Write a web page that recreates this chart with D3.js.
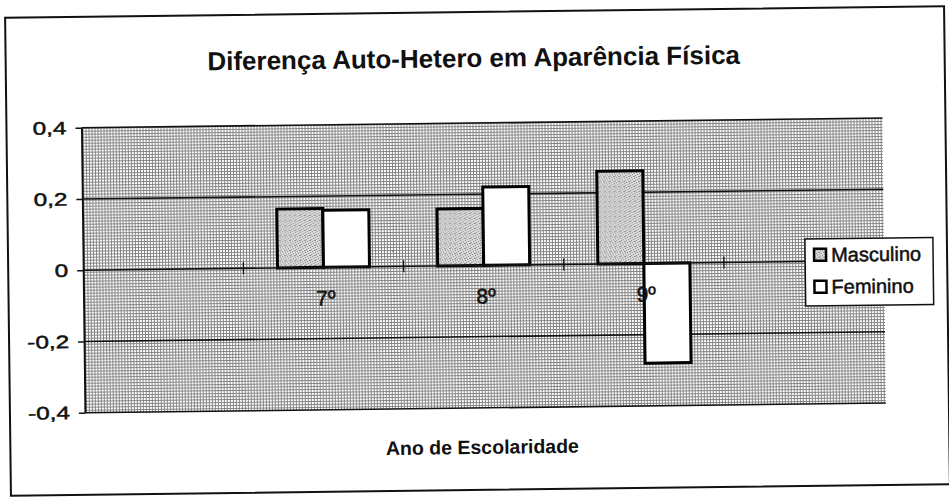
<!DOCTYPE html>
<html>
<head>
<meta charset="utf-8">
<script src="https://cdn.jsdelivr.net/npm/d3@7"></script>
<style>
  html, body { margin: 0; padding: 0; background: #fff; }
  svg { display: block; font-family: "Liberation Sans", Arial, sans-serif; }
  .ink { stroke: #111; stroke-width: 0.5px; }
</style>
</head>
<body>
<div id="chart"></div>
<script>
// --- data ---
const categories = ["", "7º", "8º", "9º", ""];
const seriesNames = ["Masculino", "Feminino"];
const masculino = [null, 0.165, 0.16, 0.26, null];
const feminino = [null, 0.16, 0.22, -0.28, null];
const yTicks = [-0.4, -0.2, 0, 0.2, 0.4];

const W = 949, H = 502;
const plot = {left: 83, right: 884, top: 123, bottom: 408};

const svg = d3.select("#chart").append("svg")
    .attr("width", W)
    .attr("height", H);

// fill patterns (printed Excel look)
const defs = svg.append("defs");
const bgPat = defs.append("pattern")
    .attr("id", "bgPat").attr("patternUnits", "userSpaceOnUse")
    .attr("width", 3).attr("height", 3);
bgPat.append("rect").attr("width", 3).attr("height", 3).attr("fill", "#fff");
bgPat.append("rect").attr("width", 3).attr("height", 1).attr("fill", "#858585");
bgPat.append("rect").attr("width", 1).attr("height", 3).attr("fill", "#858585");

const mPat = defs.append("pattern")
    .attr("id", "mascPat").attr("patternUnits", "userSpaceOnUse")
    .attr("width", 5).attr("height", 5);
mPat.append("rect").attr("width", 5).attr("height", 5).attr("fill", "#dadada");
[[0, 0], [3, 1], [1, 2], [4, 3], [2, 4], [0, 3]].forEach(p => {
    mPat.append("rect").attr("x", p[0]).attr("y", p[1])
        .attr("width", 1).attr("height", 1).attr("fill", "#8a8a8a");
});

const fills = {Masculino: "url(#mascPat)", Feminino: "#fff"};

// the scan is slightly tilted
const g = svg.append("g").attr("transform", "rotate(-0.7 474 251)");

// outer chart frame
g.append("rect")
    .attr("x", 8).attr("y", 12).attr("width", 939).attr("height", 478)
    .attr("fill", "#fff").attr("stroke", "#111").attr("stroke-width", 2);

const x = d3.scaleBand()
    .domain(d3.range(categories.length))
    .range([plot.left, plot.right]);

const x1 = d3.scaleBand()
    .domain(seriesNames)
    .range([0, 92]);

const y = d3.scaleLinear()
    .domain([-0.4, 0.4])
    .range([plot.bottom, plot.top]);

// plot background
g.append("rect")
    .attr("x", plot.left).attr("y", plot.top)
    .attr("width", plot.right - plot.left).attr("height", plot.bottom - plot.top)
    .attr("fill", "url(#bgPat)");

// gridlines
g.append("g")
    .selectAll("line")
    .data(yTicks.filter(d => d !== 0))
    .join("line")
    .attr("x1", plot.left).attr("x2", plot.right)
    .attr("y1", d => y(d)).attr("y2", d => y(d))
    .attr("stroke", "#111").attr("stroke-width", 1.6);

// bars
const rows = [];
categories.forEach((c, i) => {
    if (masculino[i] !== null) rows.push({i, s: "Masculino", v: masculino[i]});
    if (feminino[i] !== null) rows.push({i, s: "Feminino", v: feminino[i]});
});

g.append("g")
    .selectAll("rect")
    .data(rows)
    .join("rect")
    .attr("x", d => x(d.i) + x.bandwidth() / 2 - 46 + x1(d.s))
    .attr("y", d => y(Math.max(0, d.v)))
    .attr("width", x1.bandwidth())
    .attr("height", d => Math.abs(y(d.v) - y(0)))
    .attr("fill", d => fills[d.s])
    .attr("stroke", "#000")
    .attr("stroke-width", 3);

// category axis at zero
const xAxis = g.append("g");
xAxis.append("line")
    .attr("x1", plot.left).attr("x2", plot.right)
    .attr("y1", y(0)).attr("y2", y(0))
    .attr("stroke", "#111").attr("stroke-width", 1.6);
xAxis.selectAll(".cross")
    .data(d3.range(1, categories.length))
    .join("line")
    .attr("class", "cross")
    .attr("x1", d => x(d)).attr("x2", d => x(d))
    .attr("y1", y(0) - 6).attr("y2", y(0) + 6)
    .attr("stroke", "#111").attr("stroke-width", 1.3);
xAxis.selectAll("text")
    .data(categories.map((c, i) => ({c, i})).filter(d => d.c))
    .join("text")
    .attr("class", "ink")
    .attr("x", d => x(d.i) + x.bandwidth() / 2 + 2)
    .attr("y", y(0) + 38)
    .attr("text-anchor", "middle")
    .attr("font-size", 21)
    .attr("fill", "#111")
    .text(d => d.c);

// value axis
const yAxis = g.append("g")
    .attr("transform", `translate(${plot.left},0)`)
    .call(d3.axisLeft(y)
        .tickValues(yTicks)
        .tickSize(6)
        .tickSizeOuter(0)
        .tickFormat(d => d === 0 ? "0" : d.toFixed(1).replace(".", ",")));
yAxis.select(".domain").attr("stroke", "#111").attr("stroke-width", 2);
yAxis.selectAll(".tick line").attr("stroke", "#111").attr("stroke-width", 1.5);
yAxis.selectAll(".tick text")
    .attr("class", "ink")
    .attr("font-family", "'Liberation Sans', Arial, sans-serif")
    .attr("font-size", 18)
    .attr("fill", "#111")
    .attr("x", -15 / 1.35)
    .attr("transform", "scale(1.35,1)");

// titles
g.append("text")
    .attr("x", 476).attr("y", 67)
    .attr("text-anchor", "middle")
    .attr("font-size", 26).attr("font-weight", "bold")
    .attr("fill", "#111")
    .text("Diferença Auto-Hetero em Aparência Física");

g.append("text")
    .attr("x", 480).attr("y", 454)
    .attr("text-anchor", "middle")
    .attr("font-size", 19.5).attr("font-weight", "bold")
    .attr("fill", "#111")
    .text("Ano de Escolaridade");

// legend
const legend = g.append("g").attr("transform", "translate(805,243)");
legend.append("rect")
    .attr("width", 128).attr("height", 67)
    .attr("fill", "#fff").attr("stroke", "#111").attr("stroke-width", 1.5);
const items = legend.selectAll(".item")
    .data(seriesNames)
    .join("g")
    .attr("class", "item")
    .attr("transform", (d, i) => `translate(9,${10 + i * 32})`);
items.append("rect")
    .attr("width", 12).attr("height", 12)
    .attr("fill", d => fills[d])
    .attr("stroke", "#000").attr("stroke-width", 2.5);
items.append("text")
    .attr("class", "ink")
    .attr("x", 17).attr("y", 13)
    .attr("font-size", 20)
    .attr("fill", "#111")
    .text(d => d);
</script>
</body>
</html>
